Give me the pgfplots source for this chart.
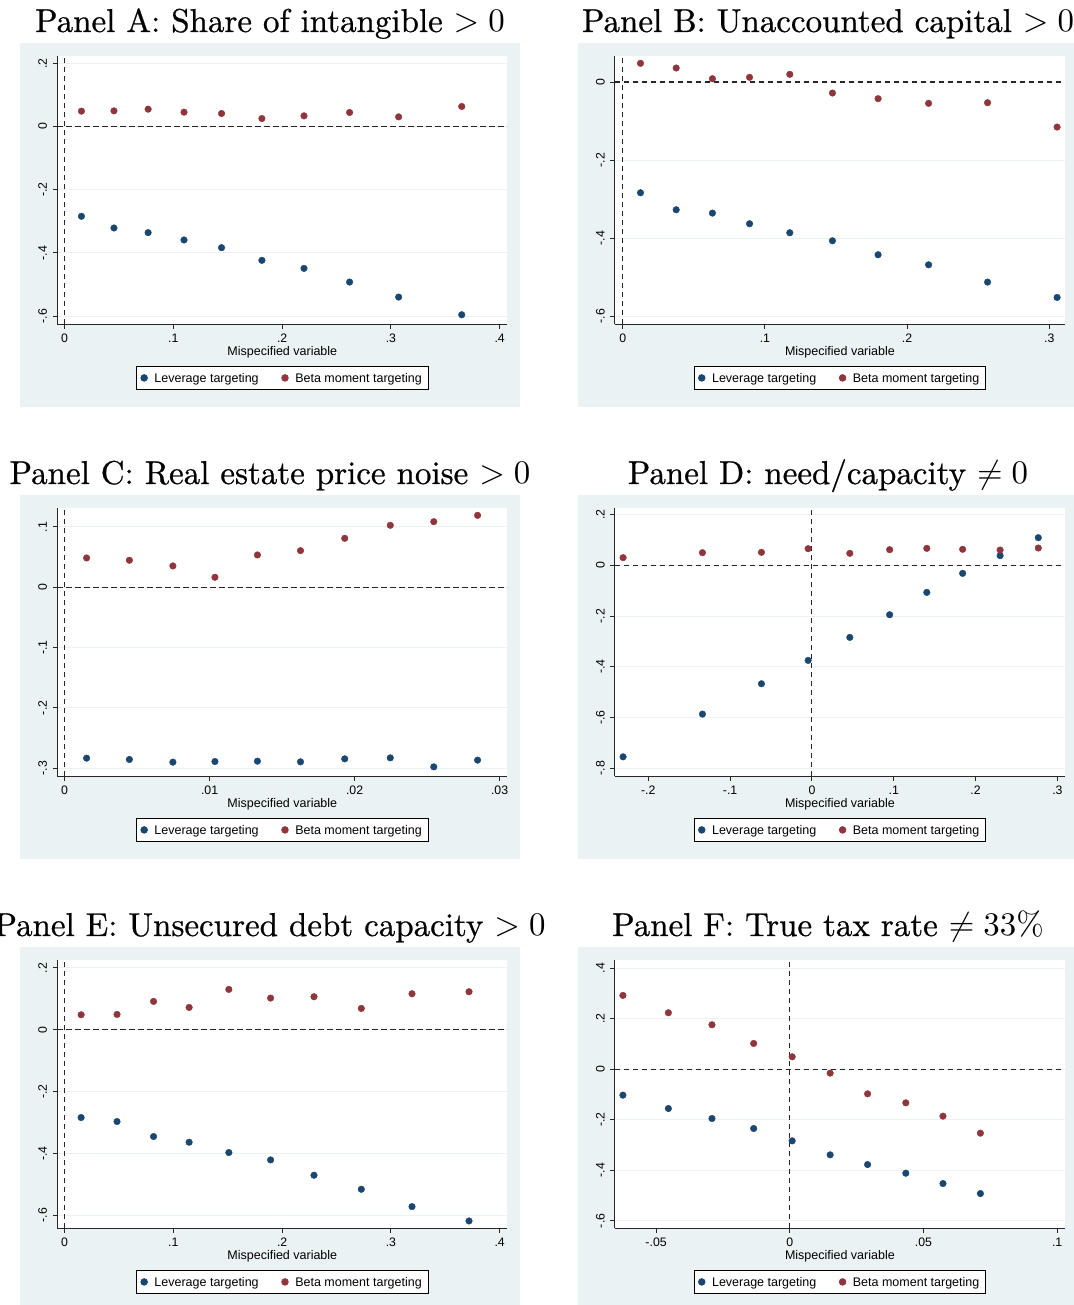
\documentclass[border=0pt]{standalone}
\usepackage{fontspec}
\usepackage{pgfplots}
\pgfplotsset{compat=1.18}
\newfontfamily\hel{Liberation Sans}
\newfontfamily\ttlrm{Latin Modern Roman}[FakeBold=0.7]
\definecolor{navy}{RGB}{26,71,111}
\definecolor{maroon}{RGB}{144,53,59}
\definecolor{bgcol}{RGB}{234,242,243}
\definecolor{gridcol}{RGB}{234,242,243}
\newcommand\tickfont{\hel\fontsize{12.3bp}{14bp}\selectfont}
\newcommand\labfont{\hel\fontsize{12.5bp}{15bp}\selectfont}
\newcommand\titlefont{\ttlrm\fontsize{10bp}{12bp}\selectfont}
\tikzset{zl/.style={black!85, line width=1.1bp, dash pattern=on 5.5bp off 3.5bp},
  ttl/.style={font=\titlefont, anchor=base, scale=3.3, inner sep=0pt}}
\pgfplotsset{
  panel/.style={
    scale only axis, width=450bp, height=268.5bp, anchor=south west,
    axis x line*=bottom, axis y line*=left,
    axis line style={black!85, line width=1bp},
    tick align=outside, major tick length=4.5bp,
    tick style={black!85, line width=1bp},
    ymajorgrids, grid style={gridcol, line width=1bp},
    axis background/.style={fill=white},
    scaled x ticks=false, scaled y ticks=false,
    /pgf/number format/assume math mode=true,
    ticklabel style={font=\tickfont},
    xticklabel style={anchor=base, yshift=-13.2bp},
    yticklabel style={rotate=90, anchor=base, yshift=5.8bp},
    xlabel={Mispecified variable},
    xlabel style={font=\labfont, at={(axis description cs:0.5,0)}, anchor=base, yshift=-31.2bp},
    legend columns=2,
    legend cell align=left,
    legend style={at={(0.5,0)}, anchor=north, yshift=-41.5bp, font=\labfont,
      draw=black, line width=0.8bp, fill=white, inner xsep=4.5bp, inner ysep=5bp,
      nodes={inner sep=2bp, text depth=0pt},
      /tikz/every even column/.append style={column sep=21bp},
      /tikz/every odd column/.append style={column sep=5bp}},
  },
  sblue/.style={only marks, mark=*, mark size=3.3bp, color=navy,
    legend image code/.code={\draw[##1] plot coordinates {(0bp,0bp)};}},
  sred/.style={only marks, mark=*, mark size=3.3bp, color=maroon,
    legend image code/.code={\draw[##1] plot coordinates {(0bp,0bp)};}},
}
\newcommand\hzero{\draw[zl] ({rel axis cs:0,0}|-{axis cs:0,0}) -- ({rel axis cs:1,0}|-{axis cs:0,0});}
\newcommand\vzero{\draw[zl] ({axis cs:0,0}|-{rel axis cs:0,0}) -- ({axis cs:0,0}|-{rel axis cs:0,1});}
\newcommand\legA{\addlegendentry{Leverage targeting}}
\newcommand\legB{\addlegendentry{Beta moment targeting\hspace{11bp}}}
\begin{document}
\begin{tikzpicture}
\useasboundingbox (0,0) rectangle (1074bp,1305bp);
\clip (0,0) rectangle (1074bp,1305bp);
% backgrounds
\fill[bgcol] (20bp,898.3bp) rectangle (520bp,1261.7bp);
\fill[bgcol] (578bp,898.3bp) rectangle (1078bp,1261.7bp);
\fill[bgcol] (20bp,446.3bp) rectangle (520bp,809.7bp);
\fill[bgcol] (578bp,446.3bp) rectangle (1078bp,809.7bp);
\fill[bgcol] (20bp,-5.7bp) rectangle (520bp,357.7bp);
\fill[bgcol] (578bp,-5.7bp) rectangle (1078bp,357.7bp);
% titles
\node[ttl] at (270bp,1273bp) {Panel A: Share of intangible $>0$};
\node[ttl] at (828bp,1273bp) {Panel B: Unaccounted capital $>0$};
\node[ttl] at (270bp,821bp) {Panel C: Real estate price noise $>0$};
\node[ttl] at (828bp,821bp) {Panel D: need/capacity $\neq0$};
\node[ttl] at (270bp,369bp) {Panel E: Unsecured debt capacity $>0$};
\node[ttl] at (828bp,369bp) {Panel F: True tax rate $\neq33\%$};

% Panel A
\begin{axis}[panel, at={(57.3bp,980.5bp)}, xmin=-0.0067, xmax=0.407, ymin=-0.6264, ymax=0.2232,
  xtick={0,0.1,0.2,0.3,0.4}, xticklabels={0,.1,.2,.3,.4},
  ytick={-0.6,-0.4,-0.2,0,0.2}, yticklabels={-.6,-.4,-.2,0,.2}]
\hzero \vzero
\addplot[sblue] coordinates {(0.0155,-0.284) (0.0454,-0.321) (0.0768,-0.3358) (0.1098,-0.359) (0.1443,-0.3833) (0.1814,-0.4234) (0.2201,-0.4488) (0.2620,-0.4921) (0.3071,-0.5396) (0.3651,-0.5956)};
\legA
\addplot[sred] coordinates {(0.0155,0.0486) (0.0454,0.0496) (0.0768,0.0549) (0.1098,0.0454) (0.1443,0.0412) (0.1814,0.0253) (0.2201,0.0338) (0.2620,0.0444) (0.3071,0.0306) (0.3651,0.0634)};
\legB
\end{axis}

% Panel B
\begin{axis}[panel, at={(614.9bp,980.5bp)}, xmin=-0.0055, xmax=0.311, ymin=-0.6214, ymax=0.0667,
  xtick={0,0.1,0.2,0.3}, xticklabels={0,.1,.2,.3},
  ytick={-0.6,-0.4,-0.2,0}, yticklabels={-.6,-.4,-.2,0}]
\hzero \vzero
\addplot[sblue] coordinates {(0.0125,-0.2838) (0.0376,-0.3274) (0.0631,-0.3359) (0.0892,-0.3632) (0.1175,-0.3863) (0.1475,-0.4068) (0.1796,-0.4427) (0.2151,-0.4684) (0.2566,-0.5128) (0.3055,-0.5521)};
\legA
\addplot[sred] coordinates {(0.0125,0.0479) (0.0376,0.0359) (0.0631,0.0085) (0.0892,0.012) (0.1175,0.0197) (0.1475,-0.0282) (0.1796,-0.0427) (0.2151,-0.0547) (0.2566,-0.053) (0.3055,-0.1154)};
\legB
\end{axis}

% Panel C
\begin{axis}[panel, at={(57.3bp,528.5bp)}, xmin=-0.0005, xmax=0.03053, ymin=-0.3138, ymax=0.1315,
  xtick={0,0.01,0.02,0.03}, xticklabels={0,.01,.02,.03},
  ytick={-0.3,-0.2,-0.1,0,0.1}, yticklabels={-.3,-.2,-.1,0,.1}]
\hzero \vzero
\addplot[sblue] coordinates {(0.00152,-0.2834) (0.00447,-0.2856) (0.00747,-0.29) (0.01037,-0.289) (0.0133,-0.2884) (0.01627,-0.2895) (0.01932,-0.2845) (0.02246,-0.2829) (0.02546,-0.2978) (0.02848,-0.2867)};
\legA
\addplot[sred] coordinates {(0.00152,0.0486) (0.00447,0.0448) (0.00747,0.0354) (0.01037,0.0166) (0.0133,0.0536) (0.01627,0.0608) (0.01932,0.0812) (0.02246,0.1028) (0.02546,0.1088) (0.02848,0.1193)};
\legB
\end{axis}

% Panel D
\begin{axis}[panel, at={(614.9bp,528.5bp)}, xmin=-0.2408, xmax=0.3092, ymin=-0.8329, ymax=0.2263,
  xtick={-0.2,-0.1,0,0.1,0.2,0.3}, xticklabels={-.2,-.1,0,.1,.2,.3},
  ytick={-0.8,-0.6,-0.4,-0.2,0,0.2}, yticklabels={-.8,-.6,-.4,-.2,0,.2}]
\hzero \vzero
\addplot[sblue] coordinates {(-0.2308,-0.7553) (-0.1338,-0.5868) (-0.0617,-0.4671) (-0.0046,-0.375) (0.0463,-0.2842) (0.095,-0.1947) (0.1404,-0.1066) (0.1842,-0.0316) (0.23,0.0382) (0.2767,0.1092)};
\legA
\addplot[sred] coordinates {(-0.2308,0.0303) (-0.1338,0.05) (-0.0617,0.0513) (-0.0046,0.0658) (0.0463,0.0474) (0.095,0.0618) (0.1404,0.0671) (0.1842,0.0632) (0.23,0.0605) (0.2767,0.0684)};
\legB
\end{axis}

% Panel E
\begin{axis}[panel, at={(57.3bp,76.5bp)}, xmin=-0.0067, xmax=0.407, ymin=-0.6432, ymax=0.2259,
  xtick={0,0.1,0.2,0.3,0.4}, xticklabels={0,.1,.2,.3,.4},
  ytick={-0.6,-0.4,-0.2,0,0.2}, yticklabels={-.6,-.4,-.2,0,.2}]
\hzero \vzero
\addplot[sblue] coordinates {(0.0152,-0.284) (0.0482,-0.297) (0.0818,-0.3456) (0.1145,-0.364) (0.151,-0.3974) (0.1894,-0.4212) (0.2293,-0.4708) (0.2728,-0.5162) (0.3194,-0.5724) (0.3718,-0.6188)};
\legA
\addplot[sred] coordinates {(0.0152,0.0486) (0.0482,0.0497) (0.0818,0.0918) (0.1145,0.0724) (0.151,0.1307) (0.1894,0.1026) (0.2293,0.1069) (0.2728,0.0691) (0.3194,0.1166) (0.3718,0.1231)};
\legB
\end{axis}

% Panel F
\begin{axis}[panel, at={(614.9bp,76.5bp)}, xmin=-0.0654, xmax=0.1029, ymin=-0.6303, ymax=0.4317,
  xtick={-0.05,0,0.05,0.1}, xticklabels={-.05,0,.05,.1},
  ytick={-0.6,-0.4,-0.2,0,0.2,0.4}, yticklabels={-.6,-.4,-.2,0,.2,.4}]
\hzero \vzero
\addplot[sblue] coordinates {(-0.0624,-0.1029) (-0.0454,-0.1557) (-0.0291,-0.1953) (-0.0135,-0.2348) (0.0009,-0.2836) (0.0151,-0.339) (0.0291,-0.3773) (0.0434,-0.4116) (0.0573,-0.4525) (0.0713,-0.4921)};
\legA
\addplot[sred] coordinates {(-0.0624,0.2916) (-0.0454,0.223) (-0.0291,0.1755) (-0.0135,0.1016) (0.0009,0.0488) (0.0151,-0.0158) (0.0291,-0.0976) (0.0434,-0.1332) (0.0573,-0.186) (0.0713,-0.2533)};
\legB
\end{axis}
\end{tikzpicture}
\end{document}
